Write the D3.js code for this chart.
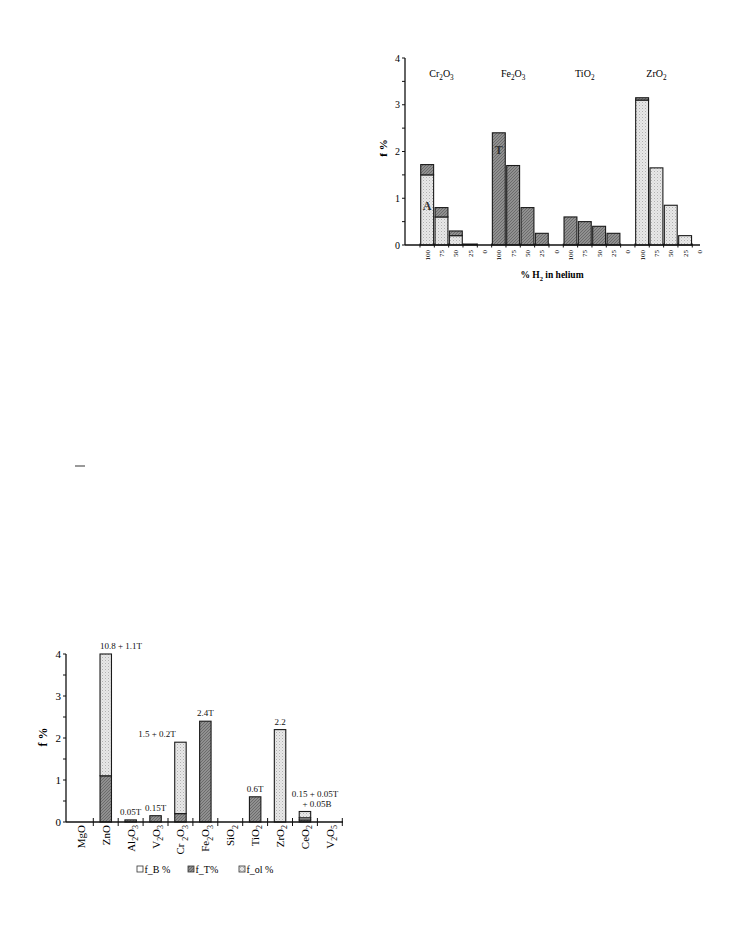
<!DOCTYPE html>
<html>
<head>
<meta charset="utf-8">
<script src="https://cdn.jsdelivr.net/npm/d3@7/dist/d3.min.js"></script>
<style>
  html, body { margin: 0; padding: 0; background: #fff; }
  svg { display: block; font-family: "Liberation Serif", "DejaVu Serif", serif; }
</style>
</head>
<body>
<svg id="chart" width="729" height="951"></svg>
<script>
// ---------- DATA ----------
// Top chart: f % vs % H2 in helium, for four oxides
const topGroups = ["Cr2O3", "Fe2O3", "TiO2", "ZrO2"];
const h2Levels = ["100", "75", "50", "25", "0"];
const topA = [1.5, 0.6, 0.2, 0, 0,   0, 0, 0, 0, 0,   0, 0, 0, 0, 0,   3.1, 1.65, 0.85, 0.2, 0];
const topT = [0.22, 0.2, 0.1, 0.02, 0,   2.4, 1.7, 0.8, 0.25, 0,   0.6, 0.5, 0.4, 0.25, 0,   0.05, 0, 0, 0, 0];
const topYTicks = [0, 1, 2, 3, 4];

// Bottom chart: f % per oxide
const botCats = ["MgO", "ZnO", "Al2O3", "V2O3", "Cr 2O3", "Fe2O3", "SiO2", "TiO2", "ZrO2", "CeO2", "V2O5"];
const botT  = [0, 1.1, 0.05, 0.15, 0.2, 2.4, 0, 0.6, 0, 0.05, 0];
const botB  = [0, 0, 0, 0, 0, 0, 0, 0, 0, 0.05, 0];
const botOl = [0, 10.8, 0, 0, 1.7, 0, 0, 0, 2.2, 0.15, 0];
const botLabels = ["", "10.8 + 1.1T", "0.05T", "0.15T", "1.5 + 0.2T", "2.4T", "", "0.6T", "2.2", "0.15 + 0.05T|+ 0.05B", ""];
const botYTicks = [0, 1, 2, 3, 4];
const legendItems = ["f_B %", "f_T%", "f_ol %"];

// ---------- SETUP ----------
const svg = d3.select("#chart");
const defs = svg.append("defs");

const pl = defs.append("pattern").attr("id", "pLight").attr("patternUnits", "userSpaceOnUse")
  .attr("width", 3).attr("height", 3);
pl.append("rect").attr("width", 3).attr("height", 3).attr("fill", "#e8e8e8");
pl.append("rect").attr("x", 0).attr("y", 0).attr("width", 1).attr("height", 1).attr("fill", "#b0b0b0");
pl.append("rect").attr("x", 1.5).attr("y", 1.5).attr("width", 1).attr("height", 1).attr("fill", "#c8c8c8");

const pd = defs.append("pattern").attr("id", "pDark").attr("patternUnits", "userSpaceOnUse")
  .attr("width", 3).attr("height", 3);
pd.append("rect").attr("width", 3).attr("height", 3).attr("fill", "#909090");
pd.append("path").attr("d", "M0,3 L3,0").attr("stroke", "#666").attr("stroke-width", 0.9);

const fills = { A: "url(#pLight)", ol: "url(#pLight)", T: "url(#pDark)", B: "#ffffff" };
const stroke = "#1a1a1a";

function chem(sel, str, size) {
  const parts = str.match(/(\d+|[^\d]+)/g) || [];
  let sub = false;
  parts.forEach(p => {
    const isDigit = /^\d+$/.test(p);
    const t = sel.append("tspan").text(p);
    if (isDigit && !sub) { t.attr("dy", size * 0.3).attr("font-size", size * 0.72); sub = true; }
    else if (!isDigit && sub) { t.attr("dy", -size * 0.3); sub = false; }
    else if (isDigit) { t.attr("font-size", size * 0.72); }
  });
}

// ---------- TOP CHART ----------
(function () {
  const y = d3.scaleLinear().domain([0, 4]).range([245, 58]);
  const idx = d3.range(topA.length);
  const x = d3.scaleBand().domain(idx).range([420, 420 + 20 * 14.33]).paddingInner(0.1).paddingOuter(0.05);
  const step = x.step();
  const g = svg.append("g");

  idx.forEach(i => {
    const cx = x(i);
    const w = x.bandwidth();
    let base = 0;
    [["A", topA[i]], ["T", topT[i]]].forEach(([k, v]) => {
      if (v > 0) {
        g.append("rect").attr("x", cx).attr("y", y(base + v)).attr("width", w)
          .attr("height", y(base) - y(base + v)).attr("fill", fills[k])
          .attr("stroke", stroke).attr("stroke-width", 1.1);
        base += v;
      }
    });
  });

  g.append("line").attr("x1", 405).attr("x2", 405).attr("y1", y(4)).attr("y2", y(0)).attr("stroke", "#111").attr("stroke-width", 1.3);
  g.append("line").attr("x1", 405).attr("x2", 700).attr("y1", y(0)).attr("y2", y(0)).attr("stroke", "#111").attr("stroke-width", 1.3);
  d3.range(0, 4.01, 0.5).forEach(v => {
    g.append("line").attr("x1", 402).attr("x2", 405).attr("y1", y(v)).attr("y2", y(v)).attr("stroke", "#111");
  });
  topYTicks.forEach(v => {
    g.append("text").attr("x", 400).attr("y", y(v) + 3.5).attr("text-anchor", "end")
      .attr("font-size", 10).text(v);
  });
  d3.range(0, 20).forEach(i => {
    const bx = x.range()[0] + i * step;
    g.append("line").attr("x1", bx).attr("x2", bx).attr("y1", y(0) - 1.5).attr("y2", y(0) + 2.5).attr("stroke", "#111");
  });
  idx.forEach(i => {
    const cx = x(i) + x.bandwidth() / 2 + 2.5;
    g.append("text").attr("transform", `translate(${cx},250) rotate(-90)`)
      .attr("text-anchor", "end").attr("font-size", 7).text(h2Levels[i % 5]);
  });
  topGroups.forEach((name, gi) => {
    const c = x(gi * 5 + 1) + x.bandwidth() / 2;
    const t = g.append("text").attr("x", c).attr("y", 77).attr("text-anchor", "middle").attr("font-size", 10);
    chem(t, name, 10);
  });
  g.append("text").attr("x", x(0) + x.bandwidth() / 2).attr("y", y(topA[0] * 0.55) + 4)
    .attr("text-anchor", "middle").attr("font-size", 12).attr("font-weight", "bold").attr("fill", "#333").text("A");
  g.append("text").attr("x", x(5) + x.bandwidth() / 2).attr("y", y(topT[5] * 0.85) + 4)
    .attr("text-anchor", "middle").attr("font-size", 12).attr("font-weight", "bold").attr("fill", "#333").text("T");
  g.append("text").attr("transform", "translate(387,148) rotate(-90)").attr("text-anchor", "middle")
    .attr("font-size", 11).attr("font-weight", "bold").text("f  %");
  const xt = g.append("text").attr("x", 552).attr("y", 278).attr("text-anchor", "middle")
    .attr("font-size", 9.5).attr("font-weight", "bold");
  xt.append("tspan").text("% H");
  xt.append("tspan").attr("dy", 2.5).attr("font-size", 6.5).text("2");
  xt.append("tspan").attr("dy", -2.5).text("  in helium");
})();

svg.append("line").attr("x1", 75).attr("x2", 85).attr("y1", 466).attr("y2", 466)
  .attr("stroke", "#555").attr("stroke-width", 1.2);

// ---------- BOTTOM CHART ----------
(function () {
  const y = d3.scaleLinear().domain([0, 4]).range([822, 654]).clamp(true);
  const idx = d3.range(botCats.length);
  const x = d3.scaleBand().domain(idx).range([68.4, 342.3]).paddingInner(0.54).paddingOuter(0.27);
  const step = x.step();
  const g = svg.append("g");

  idx.forEach(i => {
    const bx = x(i);
    const w = x.bandwidth();
    let base = 0;
    [["T", botT[i]], ["B", botB[i]], ["ol", botOl[i]]].forEach(([k, v]) => {
      if (v > 0) {
        g.append("rect").attr("x", bx).attr("y", y(base + v)).attr("width", w)
          .attr("height", Math.max(0.6, y(base) - y(base + v))).attr("fill", fills[k])
          .attr("stroke", stroke).attr("stroke-width", 1.1);
        base += v;
      }
    });
    const lab = botLabels[i];
    if (lab) {
      const top = y(base);
      const lines = lab.split("|");
      let anchor = "middle", lx = bx + w / 2;
      if (botCats[i] === "ZnO") { anchor = "start"; lx = bx; }
      if (botCats[i] === "Cr 2O3") { anchor = "end"; lx = bx + 1; }
      if (botCats[i] === "CeO2") { lx = bx + w / 2 + 10; }
      const baseY = top - 5 - (lines.length - 1) * 10;
      lines.forEach((ln, li) => {
        g.append("text").attr("x", lx + (li > 0 ? 2 : 0)).attr("y", baseY + li * 10)
          .attr("text-anchor", anchor).attr("font-size", 9).attr("fill", "#111").text(ln);
      });
    }
  });

  g.append("line").attr("x1", 66).attr("x2", 66).attr("y1", y(4)).attr("y2", y(0)).attr("stroke", "#111").attr("stroke-width", 1.3);
  g.append("line").attr("x1", 66).attr("x2", 343).attr("y1", y(0)).attr("y2", y(0)).attr("stroke", "#111").attr("stroke-width", 1.3);
  d3.range(0, 4.01, 0.5).forEach(v => {
    g.append("line").attr("x1", 63).attr("x2", 66).attr("y1", y(v)).attr("y2", y(v)).attr("stroke", "#111");
  });
  botYTicks.forEach(v => {
    g.append("text").attr("x", 61).attr("y", y(v) + 4).attr("text-anchor", "end")
      .attr("font-size", 11).text(v);
  });
  d3.range(1, botCats.length + 1).forEach(i => {
    const bx = x.range()[0] + i * step;
    g.append("line").attr("x1", bx).attr("x2", bx).attr("y1", y(0) - 4).attr("y2", y(0) + 4).attr("stroke", "#111");
  });
  idx.forEach(i => {
    const cx = x(i) + x.bandwidth() / 2 + 4;
    const t = g.append("text").attr("transform", `translate(${cx},825) rotate(-90)`)
      .attr("text-anchor", "end").attr("font-size", 11);
    chem(t, botCats[i], 11);
  });
  g.append("text").attr("transform", "translate(47,737) rotate(-90)").attr("text-anchor", "middle")
    .attr("font-size", 12).attr("font-weight", "bold").text("f  %");

  const lf = [fills.B, fills.T, fills.ol];
  legendItems.forEach((name, li) => {
    const lx = 137 + li * 51;
    g.append("rect").attr("x", lx).attr("y", 866).attr("width", 6).attr("height", 6)
      .attr("fill", lf[li]).attr("stroke", "#333").attr("stroke-width", 0.8);
    g.append("text").attr("x", lx + 7.5).attr("y", 873).attr("font-size", 10).text(name);
  });
})();
</script>
</body>
</html>
